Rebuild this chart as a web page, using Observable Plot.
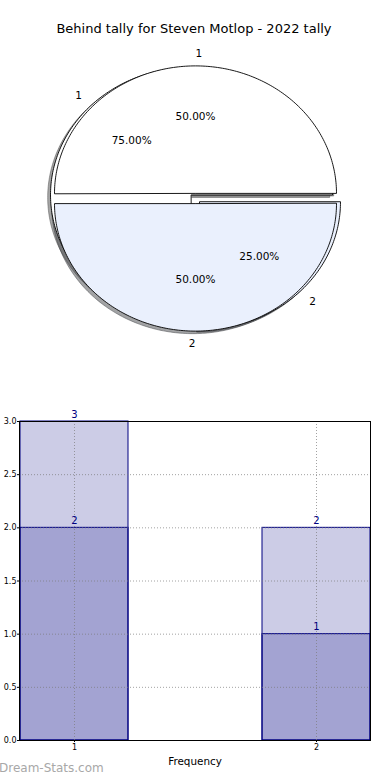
<!DOCTYPE html>
<html>
<head>
<meta charset="utf-8">
<script src="https://cdn.jsdelivr.net/npm/d3@7"></script>
<script src="https://cdn.jsdelivr.net/npm/@observablehq/plot@0.6"></script>
<style>
  html, body { margin: 0; padding: 0; background: #fff; }
  #wrap { position: relative; width: 390px; height: 780px; overflow: hidden; font-family: "DejaVu Sans", sans-serif; }
  #title { position: absolute; left: 0; top: 21px; width: 388px; text-align: center; font-size: 13px; color: #000; }
  #pie { position: absolute; left: 0; top: 40px; }
  #bars { position: absolute; left: 0; top: 400px; }
  #mark { position: absolute; left: -1px; top: 761px; font-size: 12px; color: #a8a8a8; font-weight: normal; }
</style>
</head>
<body>
<div id="wrap">
  <div id="title">Behind tally for Steven Motlop - 2022 tally</div>
  <div id="pie"></div>
  <div id="bars"></div>
  <div id="mark">Dream-Stats.com</div>
</div>
<script>
// ---- data ----
const pieLabels = ["1", "2"];
const pieBackValues = [3, 1];   // 75% / 25%
const pieFrontValues = [2, 2];  // 50% / 50%
const pieColors = ["#ffffff", "#eaf0fd"];

const categories = ["1", "2"];
const backCounts = [3, 2];
const frontCounts = [2, 1];
const yTicks = [0, 0.5, 1, 1.5, 2, 2.5, 3];

// ---- pie geometry (data units, unit radius) ----
const EXPLODE = 0.04;
const SHADOW = -0.02;
function wedges(values, pieId) {
  const total = d3.sum(values);
  let a = 0;
  return values.map((v, i) => {
    const span = 360 * v / total;
    const a0 = a, a1 = a + span; a = a1;
    const mid = (a0 + a1) / 2 * Math.PI / 180;
    const dx = EXPLODE * Math.cos(mid), dy = EXPLODE * Math.sin(mid);
    const pts = [{x: dx, y: dy}];
    const n = Math.ceil(span);
    for (let k = 0; k <= n; k++) {
      const t = (a0 + (a1 - a0) * k / n) * Math.PI / 180;
      pts.push({x: dx + Math.cos(t), y: dy + Math.sin(t)});
    }
    return {pie: pieId, i, label: pieLabels[i], pct: v / total, mid, dx, dy, pts, fill: pieColors[i]};
  });
}
const back = wedges(pieBackValues, "back");
const front = wedges(pieFrontValues, "front");
const all = [...back, ...front];

const shade = c => { const r = d3.rgb(c); return d3.rgb(r.r * 0.3, r.g * 0.3, r.b * 0.3).formatHex(); };

const pieMarks = [];
for (const w of all) {
  pieMarks.push(Plot.line(w.pts.map(p => ({x: p.x + SHADOW, y: p.y + SHADOW})), {
    x: "x", y: "y", curve: "linear-closed", fill: shade(w.fill), fillOpacity: 0.5,
    stroke: shade(w.fill), strokeOpacity: 0.5, strokeWidth: 1
  }));
}
for (const w of all) {
  pieMarks.push(Plot.line(w.pts, {
    x: "x", y: "y", curve: "linear-closed", fill: w.fill, stroke: "#000", strokeWidth: 0.9
  }));
}
const labelPts = all.map(w => ({
  x: w.dx + 1.1 * Math.cos(w.mid), y: w.dy + 1.1 * Math.sin(w.mid), text: w.label, right: Math.cos(w.mid) > 0
}));
const pctPts = all.map(w => ({
  x: w.dx + 0.6 * Math.cos(w.mid), y: w.dy + 0.6 * Math.sin(w.mid), text: (w.pct * 100).toFixed(2) + "%"
}));
pieMarks.push(Plot.text(labelPts.filter(d => d.right), {x: "x", y: "y", text: "text", textAnchor: "start", fontSize: 10.5, fill: "#000"}));
pieMarks.push(Plot.text(labelPts.filter(d => !d.right), {x: "x", y: "y", text: "text", textAnchor: "end", fontSize: 10.5, fill: "#000"}));
pieMarks.push(Plot.text(pctPts, {x: "x", y: "y", text: "text", fontSize: 10.5, fill: "#000"}));

const RX = 141, RY = 127.5, CX = 195, CY = 158, PH = 320;
const piePlot = Plot.plot({
  width: 390, height: PH,
  margin: 0,
  style: {fontFamily: "DejaVu Sans, sans-serif", background: "transparent", overflow: "visible"},
  x: {domain: [-CX / RX, (390 - CX) / RX], axis: null},
  y: {domain: [-(PH - CY) / RY, CY / RY], axis: null},
  marks: pieMarks
});
document.getElementById("pie").append(piePlot);

// ---- bar chart ----
const backRows = categories.map((c, i) => ({cat: c, v: backCounts[i]}));
const frontRows = categories.map((c, i) => ({cat: c, v: frontCounts[i]}));
const navy = "#000080";
const barPlot = Plot.plot({
  width: 390, height: 380,
  marginTop: 21, marginBottom: 40, marginLeft: 19, marginRight: 20,
  style: {fontFamily: "DejaVu Sans, sans-serif", background: "transparent", overflow: "visible"},
  x: {type: "band", domain: categories, paddingInner: 0.554, paddingOuter: 0, axis: null},
  y: {domain: [0, 3], axis: null},
  marks: [
    Plot.barY(backRows, {x: "cat", y: "v", fill: navy, fillOpacity: 0.2, stroke: navy, strokeWidth: 1}),
    Plot.barY(frontRows, {x: "cat", y: "v", fill: navy, fillOpacity: 0.2, stroke: navy, strokeWidth: 1}),
    Plot.gridY(yTicks, {stroke: "#7a7a7a", strokeOpacity: 0.7, strokeDasharray: "1,2"}),
    Plot.gridX(categories, {stroke: "#7a7a7a", strokeOpacity: 0.7, strokeDasharray: "1,2"}),
    Plot.frame({stroke: "#000", strokeWidth: 1}),
    Plot.axisY(yTicks, {tickFormat: d3.format(".1f"), tickSize: 2, tickPadding: 1, fontSize: 8, label: null}),
    Plot.axisX({tickSize: 2, tickPadding: 2, fontSize: 8, label: null}),
    Plot.axisX([], {label: "Frequency", labelAnchor: "center", labelOffset: 24, fontSize: 10.4, tickSize: 0}),
    Plot.text(backRows, {x: "cat", y: "v", text: d => String(d.v), dy: -7, fill: navy, fontSize: 10}),
    Plot.text(frontRows, {x: "cat", y: "v", text: d => String(d.v), dy: -7, fill: navy, fontSize: 10})
  ]
});
document.getElementById("bars").append(barPlot);
</script>
</body>
</html>
